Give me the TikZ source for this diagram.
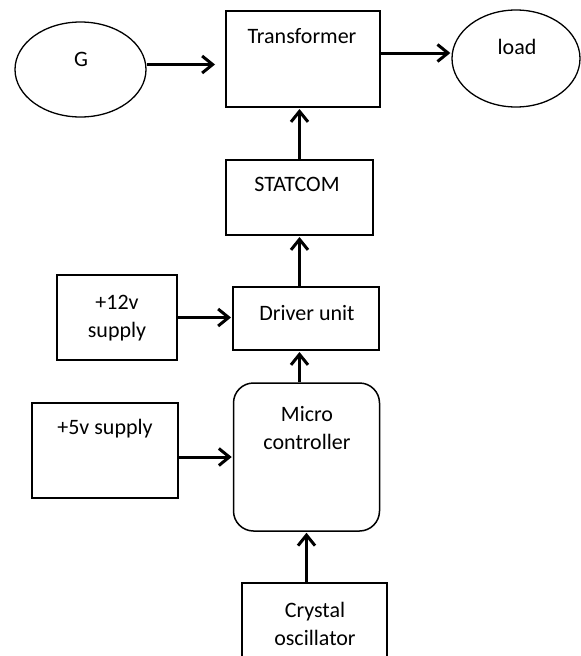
\documentclass[tikz,border=0pt]{standalone}
\usepackage{fontspec}
\setmainfont{Carlito}
\usetikzlibrary{arrows.meta,shapes.geometric}

\tikzset{
  blk/.style={draw=black, line width=2pt, inner sep=0pt},
  oval/.style={draw=black, line width=1.3pt, ellipse, inner sep=0pt},
  rblk/.style={draw=black, line width=1.5pt, rounded corners=20pt, inner sep=0pt},
  txt/.style={font=\fontsize{22}{28}\selectfont, align=center, inner sep=0pt},
  arr/.style={line width=3pt, -{Straight Barb[length=10.5pt, width=17pt]}}
}

\begin{document}
\begin{tikzpicture}[x=1pt,y=-1pt]

	%Background
	\useasboundingbox (0,0) rectangle (581,656);
	\clip (0,0) rectangle (581,656);
	\fill[white] (0,0) rectangle (581,656);

	%Generator
	\node[oval, minimum width=131pt, minimum height=95pt] (g) at (80.5,69.5) {};
	\node[txt] (gtxt) at (81,59) {G};

	%Transformer
	\node[blk, minimum width=154pt, minimum height=96pt] (tr) at (303,59) {};
	\node[txt] (trtxt) at (302,36) {Transformer};

	%Load
	\node[oval, minimum width=128pt, minimum height=97pt] (ld) at (516,58.5) {};
	\node[txt] (ldtxt) at (517,47) {load};

	%STATCOM
	\node[blk, minimum width=147pt, minimum height=75pt] (st) at (299.5,197.5) {};
	\node[txt] (sttxt) at (297,184) {STATCOM};

	%Driver unit
	\node[blk, minimum width=146pt, minimum height=63pt] (dr) at (306,318.5) {};
	\node[txt] (drtxt) at (307,313) {Driver unit};

	%+12v supply
	\node[blk, minimum width=120pt, minimum height=85pt] (ptw) at (117,317.5) {};
	\node[txt] (ptwtxt) at (117,318) {+12v\\supply};

	%Micro controller
	\node[rblk, minimum width=146pt, minimum height=148pt] (mc) at (306.5,457) {};
	\node[txt] (mctxt) at (307,428) {Micro\\controller};

	%+5v supply
	\node[blk, minimum width=146pt, minimum height=95pt] (pfv) at (105,450.5) {};
	\node[txt] (pfvtxt) at (105,429) {+5v supply};

	%Crystal oscillator
	\node[blk, minimum width=145pt, minimum height=90pt] (co) at (314.5,628) {};
	\node[txt] (cotxt) at (315,624) {Crystal\\oscillator};

	%Connectors
	\draw[arr, shorten >=10pt] ([yshift=5pt]g.east) -- ([yshift=5pt]g.east -| tr.west);
	\draw[arr, shorten >=1pt] ([yshift=6pt]tr.east) -- ([yshift=6pt]tr.east -| ld.west);
	\draw[arr, shorten >=1pt] (st.north) -- (st.north |- tr.south);
	\draw[arr, shorten >=1pt] (st.south |- dr.north) -- (st.south);
	\draw[arr, shorten >=1pt] (st.south |- mc.north) -- (st.south |- dr.south);
	\draw[arr, shorten >=1pt] (ptw.east) -- (ptw.east -| dr.west);
	\draw[arr, shorten >=1pt] (pfv.east |- mc.west) -- (mc.west);
	\draw[arr, shorten >=1pt] (mc.south |- co.north) -- (mc.south);

\end{tikzpicture}
\end{document}
